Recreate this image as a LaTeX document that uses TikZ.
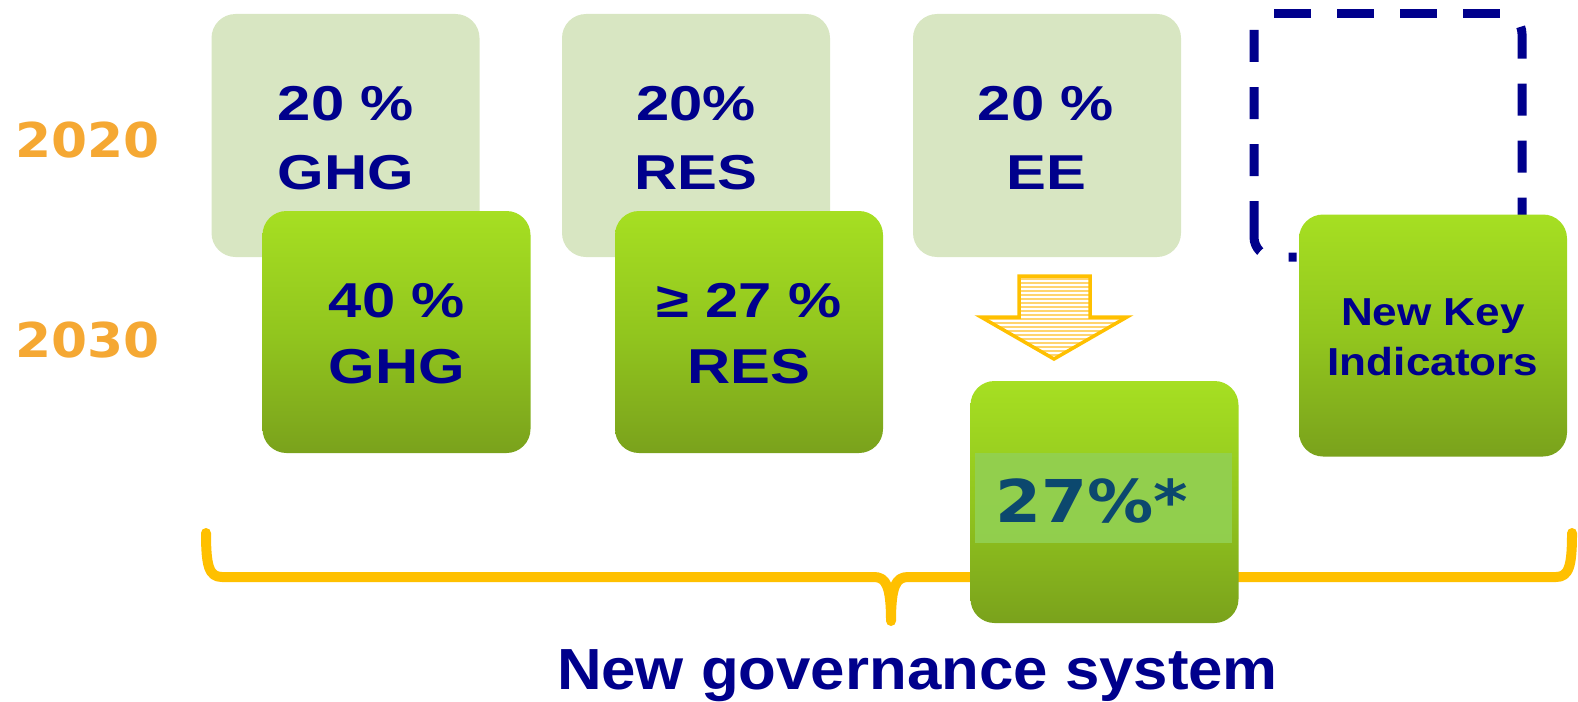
\documentclass[tikz,border=0pt]{standalone}
\usepackage{fontspec}
\newfontfamily\arialw[FakeStretch=1.22]{Liberation Sans}
\newfontfamily\arialk[FakeStretch=1.13]{Liberation Sans}
\newfontfamily\arialg[FakeStretch=1.065]{Liberation Sans}
\newfontfamily\dvw[FakeStretch=1.08]{DejaVu Sans}
\newfontfamily\dvx[FakeStretch=1.12]{DejaVu Sans}
\definecolor{navy}{RGB}{0,0,140}
\definecolor{lightgr}{RGB}{216,230,194}
\definecolor{gtop}{RGB}{166,223,34}
\definecolor{gmid}{RGB}{146,198,30}
\definecolor{gbot}{RGB}{122,162,28}
\definecolor{gold}{RGB}{255,192,0}
\definecolor{yearor}{RGB}{245,168,51}
\definecolor{bandgr}{RGB}{146,208,80}
\definecolor{teal27}{RGB}{12,72,110}
\definecolor{stripe}{RGB}{255,212,110}
\begin{document}
\begin{tikzpicture}[x=1pt,y=-1pt,
  lightbox/.style={fill=lightgr, draw=none, rounded corners=24pt,
    minimum width=268pt, minimum height=243pt, inner sep=0pt},
  greenbox/.style={top color=gtop, bottom color=gbot, middle color=gmid, draw=none,
    rounded corners=24pt, minimum width=268pt, minimum height=242pt, inner sep=0pt},
  dashside/.style={draw=navy, line width=9pt, rounded corners=20pt},
  boxtext/.style={text=navy, align=center, inner sep=0pt, anchor=north},
  rowone/.style={boxtext, font=\arialw\bfseries\fontsize{49}{69}\selectfont},
  rowtwo/.style={boxtext, font=\arialw\bfseries\fontsize{49}{66}\selectfont},
  yeartext/.style={text=yearor, inner sep=0pt, anchor=base,
    font=\dvw\bfseries\fontsize{48}{56}\selectfont},
  bracestyle/.style={draw=gold, line width=10pt, line cap=round, line join=round}
]
\useasboundingbox (0,0) rectangle (1578,701);

% 2020 row
\node[lightbox] (b1) at (345.5,135.5) {};
\node[lightbox] (b2) at (696,135.5) {};
\node[lightbox] (b3) at (1047,135.5) {};

% dashed placeholder box
\draw[dashside, dash pattern=on 37pt off 26pt] (1274,14) -- (1502,14);
\draw[dashside, dash pattern=on 0pt off 24pt on 32pt off 25pt on 32pt off 25pt on 32pt off 25pt on 90pt]
  (1502,14) -- (1522,14) -- (1522,262);
\draw[dashside, dash pattern=on 32pt off 25pt on 32pt off 25pt on 32pt off 25pt on 52pt off 30pt on 8pt off 200pt]
  (1254,30) -- (1254,257) -- (1320,257);

% year labels
\node[yeartext] (y2020) at (87.5,157) {2020};
\node[yeartext] (y2030) at (87.5,357) {2030};

% arrow
\begin{scope}
  \clip (1019,276) -- (1090,276) -- (1090,317) -- (1127,317) -- (1054,359)
        -- (981,317) -- (1019,317) -- cycle;
  \foreach \yy in {279,283,...,359} {
    \draw[stripe, line width=1.6pt] (975,\yy) -- (1135,\yy);
  }
\end{scope}
\draw[gold, line width=3.5pt, line join=miter]
  (1019,276) -- (1090,276) -- (1090,317) -- (1127,317) -- (1054,359)
  -- (981,317) -- (1019,317) -- cycle;

% brace
\draw[bracestyle] (206,533) .. controls (206,566) and (209,577) .. (222,577)
  -- (874,577) .. controls (886,577) and (891,586) .. (891,621)
  .. controls (891,586) and (896,577) .. (908,577)
  -- (1556,577) .. controls (1569,577) and (1572,566) .. (1572,533);

% 2030 row
\node[greenbox] (g1) at (396.5,332) {};
\node[greenbox] (g2) at (749,332) {};
\node[greenbox] (g4) at (1433,335.5) {};
\node[greenbox] (g3) at (1104.5,502) {};
\fill[bandgr, opacity=0.95] (975,453) rectangle (1232,543);

% texts
\node[rowone] (t1) at (346,86) {20 \%\\GHG};
\node[rowone] (t2) at (696,86) {20\%\\RES};
\node[rowone] (t3) at (1046,86) {20 \%\\EE};
\node[rowtwo] (t4) at (397,283) {40 \%\\GHG};
\node[rowtwo] (t5) at (749,283) {≥ 27 \%\\RES};
\node[boxtext, font=\arialk\bfseries\fontsize{39}{50}\selectfont] (t6) at (1433,298) {New Key\\Indicators};
\node[text=teal27, inner sep=0pt, anchor=base west, font=\dvx\bfseries\fontsize{59}{70}\selectfont] (t7) at (995,522) {27\%*};

\node[text=navy, inner sep=0pt, anchor=base, font=\arialg\bfseries\fontsize{58}{68}\selectfont] (title) at (917.5,689) {New governance system};
\end{tikzpicture}
\end{document}
